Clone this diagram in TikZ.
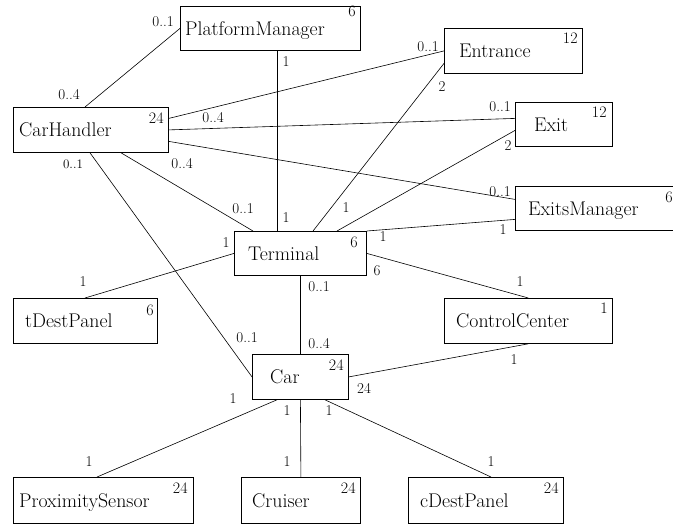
\documentclass[tikz,border=0pt]{standalone}
\usetikzlibrary{positioning}
\tikzset{
  cls/.style={draw, line width=0.8pt, anchor=north west, inner sep=0pt},
  clsname/.style={inner sep=0pt, text height=14pt, text depth=0pt, font=\fontsize{19.8}{23}\selectfont},
  cnt/.style={inner sep=0pt, font=\fontsize{16}{18}\selectfont},
  mult/.style={inner sep=0pt, font=\fontsize{15}{17}\selectfont},
  smallmult/.style={inner sep=0pt, font=\fontsize{13}{15}\selectfont},
  assoc/.style={line width=0.6pt}
}

\begin{document}
\begin{tikzpicture}[x=1pt,y=-1pt]
\useasboundingbox (0,0) rectangle (673,523);

% classes
\node[cls, minimum width=180, minimum height=44] (pm) at (180,6) {};
\node[cls, minimum width=138, minimum height=45] (ent) at (444,28) {};
\node[cls, minimum width=97, minimum height=44] (exit) at (515,102) {};
\node[cls, minimum width=168, minimum height=44] (exm) at (515,186) {};
\node[cls, minimum width=155, minimum height=45] (ch) at (13,107) {};
\node[cls, minimum width=132, minimum height=44] (term) at (234,231) {};
\node[cls, minimum width=144, minimum height=45] (tdp) at (13,298) {};
\node[cls, minimum width=168, minimum height=45] (cc) at (444,298) {};
\node[cls, minimum width=96, minimum height=45] (car) at (252,354) {};
\node[cls, minimum width=180, minimum height=46] (ps) at (13,477) {};
\node[cls, minimum width=119, minimum height=46] (cru) at (241,477) {};
\node[cls, minimum width=155, minimum height=46] (cdp) at (408,477) {};

% class names
\node[clsname, right=5pt of pm.west] (pmname) {PlatformManager};
\node[clsname, right=15pt of ent.west] (entname) {Entrance};
\node[clsname, right=19pt of exit.west] (exitname) {Exit};
\node[clsname, right=13pt of exm.west] (exmname) {ExitsManager};
\node[clsname, right=6pt of ch.west] (chname) {CarHandler};
\node[clsname, right=14pt of term.west] (termname) {Terminal};
\node[clsname, right=12pt of tdp.west] (tdpname) {tDestPanel};
\node[clsname, right=12pt of cc.west] (ccname) {ControlCenter};
\node[clsname, right=18pt of car.west] (carname) {Car};
\node[clsname, right=6pt of ps.west] (psname) {ProximitySensor};
\node[clsname, right=11pt of cru.west] (cruname) {Cruiser};
\node[clsname, right=12pt of cdp.west] (cdpname) {cDestPanel};

% instance counts
\node[cnt, below left=0pt and 5pt of pm.north east] (pmcnt) {6};
\node[cnt, below left=5pt and 5pt of ent.north east] (entcnt) {12};
\node[cnt, below left=5pt and 6pt of exit.north east] (exitcnt) {12};
\node[cnt, below left=6pt and 11pt of exm.north east] (exmcnt) {6};
\node[cnt, below left=6pt and 5pt of ch.north east] (chcnt) {24};
\node[cnt, below left=6pt and 9pt of term.north east] (termcnt) {6};
\node[cnt, below left=7pt and 4pt of tdp.north east] (tdpcnt) {6};
\node[cnt, below left=5pt and 5pt of cc.north east] (cccnt) {1};
\node[cnt, below left=6pt and 5pt of car.north east] (carcnt) {24};
\node[cnt, below left=6pt and 6pt of ps.north east] (pscnt) {24};
\node[cnt, below left=6pt and 5pt of cru.north east] (crucnt) {24};
\node[cnt, below left=6pt and 5pt of cdp.north east] (cdpcnt) {24};

% associations
\draw[assoc] ([xshift=72pt]ch.north west) -- (pm.west);
\draw[assoc] ([xshift=97pt]pm.south west) -- ([xshift=43pt]term.north west);
\draw[assoc] ([yshift=11.5pt]ch.east) -- (ent.west);
\draw[assoc] (ch.east) -- ([yshift=6pt]exit.west);
\draw[assoc] ([yshift=-11.5pt]ch.east) -- ([yshift=9pt]exm.west);
\draw[assoc] ([xshift=108pt]ch.south west) -- ([xshift=19pt]term.north west);
\draw[assoc] ([xshift=77pt]ch.south west) -- (car.west);
\draw[assoc] ([xshift=79pt]term.north west) -- ([yshift=-12.5pt]ent.west);
\draw[assoc] ([xshift=103pt]term.north west) -- ([yshift=-6pt]exit.west);
\draw[assoc] (term.north east) -- ([yshift=-11pt]exm.west);
\draw[assoc] (term.west) -- ([xshift=72pt]tdp.north west);
\draw[assoc] (term.east) -- (cc.north);
\draw[assoc] (term.south) -- (car.north);
\draw[assoc] (car.east) -- (cc.south);
\draw[assoc] ([xshift=25pt]car.south west) -- ([xshift=84pt]ps.north west);
\draw[assoc] (car.south) -- (cru.north);
\draw[assoc] ([xshift=73pt]car.south west) -- ([xshift=83pt]cdp.north west);

% multiplicities
\node[mult] (m1) at (163,22) {0..1};
\node[mult] (m2) at (69,95) {0..4};
\node[mult] (m3) at (286,62) {1};
\node[mult] (m4) at (286,218) {1};
\node[mult] (m5) at (213,118) {0..4};
\node[mult] (m6) at (182,164) {0..4};
\node[mult] (m7) at (243,209) {0..1};
\node[smallmult] (m8) at (73,164) {0..1};
\node[mult] (m9) at (226,243) {1};
\node[mult] (m10) at (428,47) {0..1};
\node[mult] (m11) at (442,87) {2};
\node[mult] (m12) at (500,107) {0..1};
\node[mult] (m13) at (508,146) {2};
\node[mult] (m14) at (500,192) {0..1};
\node[mult] (m15) at (503,230) {1};
\node[mult] (m16) at (346,208) {1};
\node[mult] (m17) at (383,237) {1};
\node[mult] (m18) at (377,271) {6};
\node[mult] (m19) at (520,282) {1};
\node[mult] (m20) at (514,360) {1};
\node[mult] (m21) at (364,388) {24};
\node[mult] (m22) at (83,282) {1};
\node[mult] (m23) at (247,338) {0..1};
\node[mult] (m24) at (319,287) {0..1};
\node[mult] (m25) at (319,344) {0..4};
\node[mult] (m26) at (233,399) {1};
\node[mult] (m27) at (287,411) {1};
\node[mult] (m28) at (329,411) {1};
\node[mult] (m29) at (89,462) {1};
\node[mult] (m30) at (287,462) {1};
\node[mult] (m31) at (491,462) {1};
\end{tikzpicture}
\end{document}
